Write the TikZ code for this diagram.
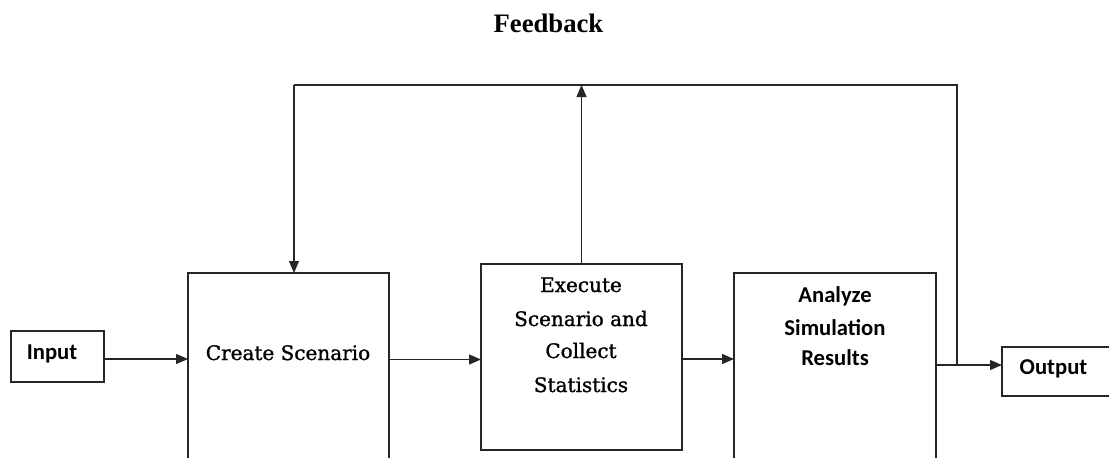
\documentclass[tikz,border=0pt]{standalone}
\usepackage{fontspec}
\usetikzlibrary{arrows.meta}
\newfontfamily\boxserif{DejaVu Serif}[FakeBold=1.2]
\newfontfamily\boxsans{Carlito}
\newfontfamily\titleserif{Liberation Serif}
\definecolor{linec}{HTML}{262626}
\begin{document}
\begin{tikzpicture}[x=0.75pt,y=-0.75pt,
  box/.style={draw=linec, line width=0.9pt, rectangle, inner sep=0pt, outer sep=0pt},
  ln/.style={draw=linec, line width=0.9pt},
  arr/.style={ln, -{Triangle[length=9pt,width=7.5pt]}},
  seriflbl/.style={font=\boxserif\fontsize{15pt}{18pt}\selectfont, inner sep=0pt, anchor=base},
  sanslbl/.style={font=\boxsans\bfseries\fontsize{17pt}{20pt}\selectfont, inner sep=0pt, anchor=base},
  titlelbl/.style={font=\titleserif\bfseries\fontsize{20pt}{24pt}\selectfont, inner sep=0pt, anchor=base}]
\useasboundingbox (0,0) rectangle (1109,457);

% boxes
\node[box, minimum width=69.75pt, minimum height=38.25pt] (in) at (57.5,356.5) {};
\node[box, minimum width=150.75pt, minimum height=147.75pt] (cs) at (288.5,371.5) {};
\node[box, minimum width=150.75pt, minimum height=139.5pt] (ex) at (581.5,357) {};
\node[box, minimum width=151.5pt, minimum height=147.75pt] (an) at (835,371.5) {};
\node[box, minimum width=88.5pt, minimum height=36.75pt] (out) at (1061,371.5) {};

% texts
\node[titlelbl] (title) at (548.5,32) {Feedback};
\node[sanslbl] (tin) at (52,359) {Input};
\node[seriflbl] (tcs) at (288,360) {Create Scenario};
\node[seriflbl] (tex1) at (581,292) {Execute};
\node[seriflbl] (tex2) at (581,326) {Scenario and};
\node[seriflbl] (tex3) at (581,358) {Collect};
\node[seriflbl] (tex4) at (581,392) {Statistics};
\node[sanslbl] (tan1) at (835,302) {Analyze};
\node[sanslbl] (tan2) at (835,335) {Simulation};
\node[sanslbl] (tan3) at (835,365) {Results};
\node[sanslbl] (tout) at (1053.5,374) {Output};

% connectors
\coordinate (p1) at ([yshift=-1.875pt]in.east);
\draw[arr] (p1) -- (p1 -| cs.west);
\coordinate (p2) at ([yshift=-1.875pt]ex.west);
\draw[arr] (p2 -| cs.east) -- (p2);
\coordinate (p3) at ([yshift=-1.5pt]ex.east);
\draw[arr] (p3) -- (p3 -| an.west);
\coordinate (p4) at ([yshift=4.875pt]out.west);
\draw[arr] (p4 -| an.east) -- (p4);

% feedback loop
\coordinate (fbR) at (957,85);
\coordinate (fbL) at (294,85);
\draw[ln] (fbR |- p4) -- (fbR) -- (fbL);
\draw[arr] (fbL) -- (fbL |- cs.north);
\draw[arr] (ex.north) -- (ex.north |- fbL);
\end{tikzpicture}
\end{document}
